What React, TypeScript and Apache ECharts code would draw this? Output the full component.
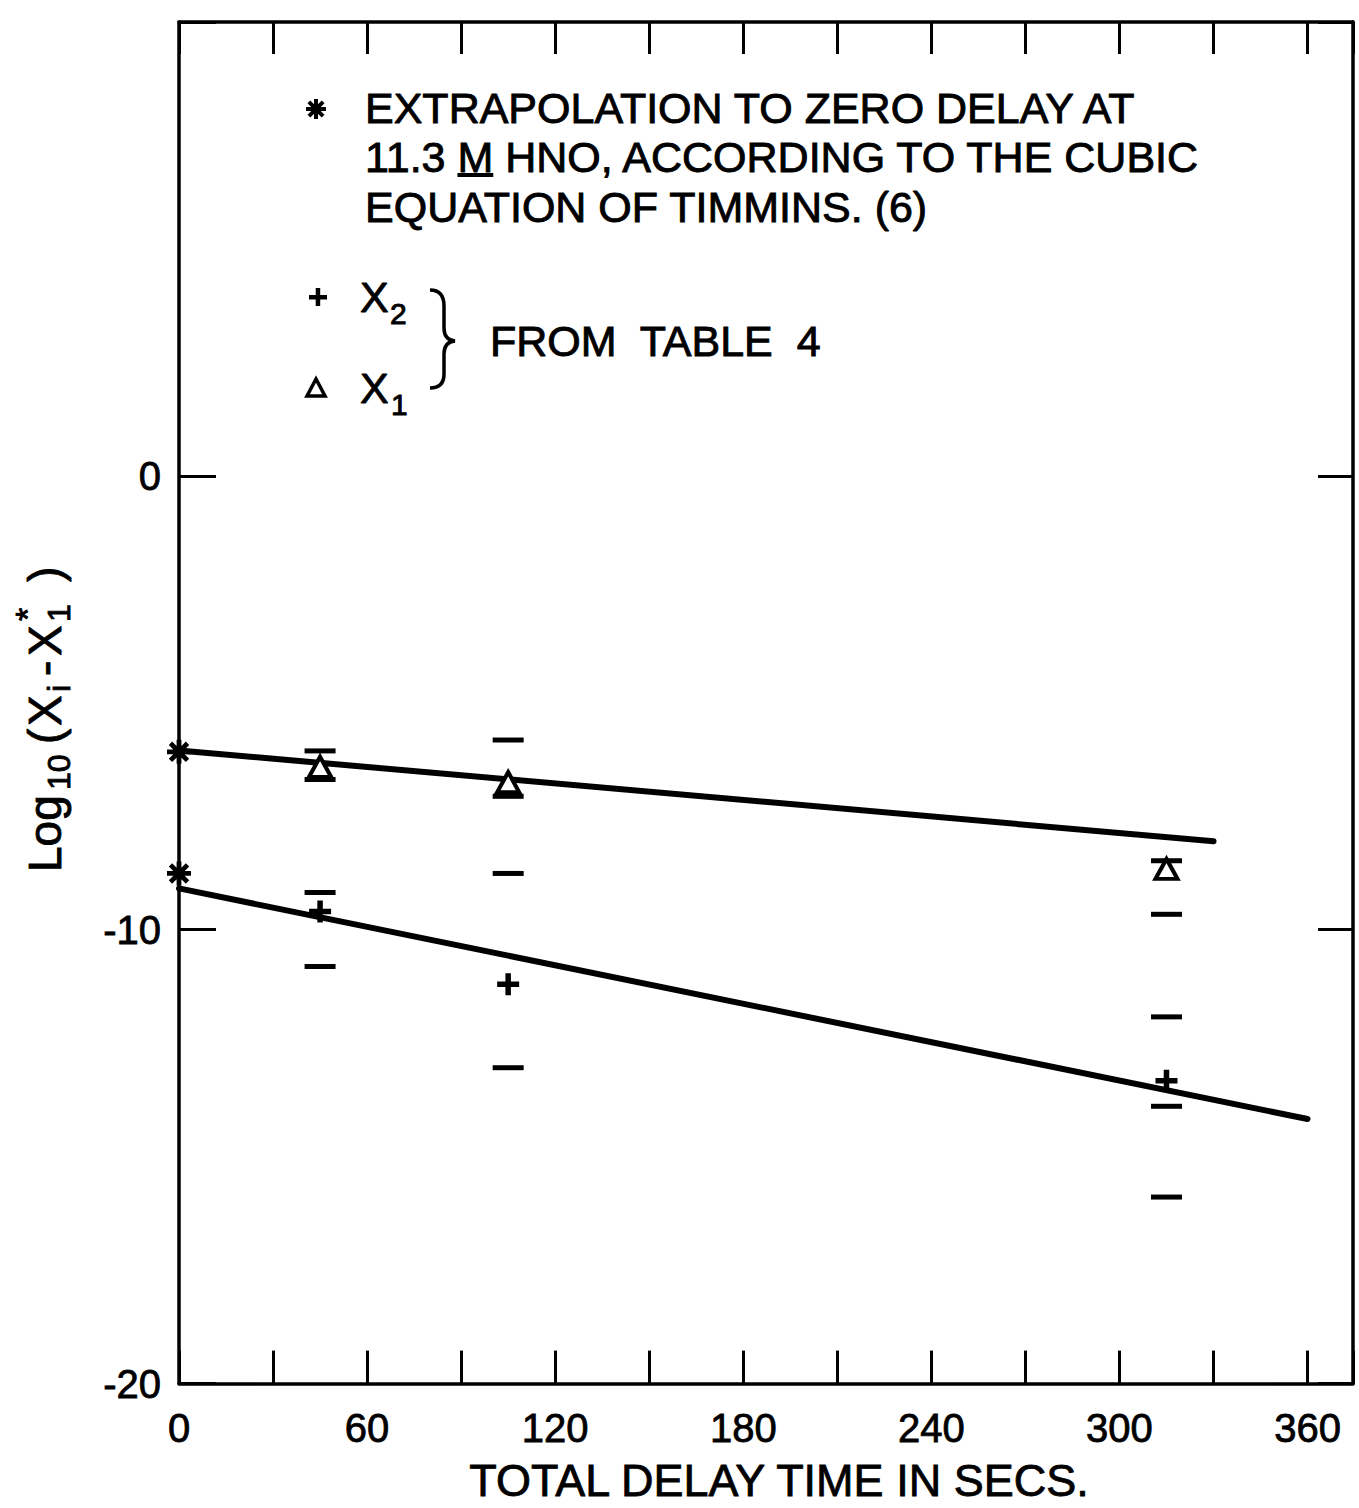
import React, { useEffect, useRef } from 'react';
import * as echarts from 'echarts';

// ---- data ----
const X_TICK_LABELS = [0, 60, 120, 180, 240, 300, 360];
const Y_TICK_LABELS = [0, -10, -20];
const DELAYS = [45, 105, 315];
const X1_VALUES = [-6.41, -6.75, -8.66];
const X2_VALUES = [-9.6, -11.2, -13.33];
const ZERO_DELAY_TIME = [0, 0];
const ZERO_DELAY_VALUES = [-6.08, -8.76];
const CAP_DELAYS = [45, 45, 45, 45, 105, 105, 105, 105, 315, 315, 315, 315, 315];
const CAP_VALUES = [-6.06, -6.69, -9.18, -10.81, -5.82, -7.06, -8.76, -13.04, -8.48, -9.66, -11.92, -13.89, -15.89];
const FIT_X1_TIME = [0, 330];
const FIT_X1_VALUE = [-6.05, -8.05];
const FIT_X2_TIME = [0, 360];
const FIT_X2_VALUE = [-9.09, -14.17];

const FONT_FAMILY = '"Liberation Sans", Arial, sans-serif';

const ASTERISK_D =
  'M0,8H20V12H0Z M8,0H12V20H8Z M4.3,1.5L18.5,15.7L15.7,18.5L1.5,4.3Z M15.7,1.5L18.5,4.3L4.3,18.5L1.5,15.7Z';
const PLUS_D = 'M7.5,0H12.5V7.5H20V12.5H12.5V20H7.5V12.5H0V7.5H7.5Z';
const BRACE_D = 'M0,0 Q14,0 14,16 L14,38 Q14,50 25,51 Q14,52 14,64 L14,84 Q14,98 0,98';

echarts.graphic.registerShape('asteriskShape', echarts.graphic.extendPath(ASTERISK_D, {}) as any);
echarts.graphic.registerShape('braceShape', echarts.graphic.extendPath(BRACE_D, {}) as any);

function measure(text: string, font: string): number {
  const c = document.createElement('canvas').getContext('2d');
  if (!c) return text.length * 20;
  c.font = font;
  return c.measureText(text).width;
}

function txt(text: string, x: number, y: number, size: number, extra: any = {}) {
  return {
    type: 'text',
    x,
    y,
    z: 10,
    style: {
      text,
      fontSize: size,
      fontFamily: FONT_FAMILY,
      fill: '#000',
      stroke: '#000',
      lineWidth: 0.9,
      align: 'left',
      verticalAlign: 'middle',
      textAlign: 'left',
      textVerticalAlign: 'middle',
      ...extra,
    },
  };
}

export default function App() {
  const ref = useRef<HTMLDivElement>(null);

  useEffect(() => {
    if (!ref.current) return;
    const chart = echarts.init(ref.current, null, { renderer: 'svg' });

    const LEG = 43;
    const fLeg = `${LEG}px ${FONT_FAMILY}`;
    const w113 = measure('11.3 ', fLeg);
    const wM = measure('M', fLeg);
    const l2x = 365;

    const axisLineStyle = { color: '#000', width: 3.5 };
    const tickStyle = { color: '#000', width: 3 };

    const option: any = {
      animation: false,
      backgroundColor: '#fff',
      grid: { left: 179, top: 22, width: 1174, height: 1376, containLabel: false },
      xAxis: [
        {
          type: 'value',
          min: 0,
          max: 374.5,
          interval: 30,
          position: 'bottom',
          axisLine: { show: true, onZero: false, lineStyle: axisLineStyle },
          axisTick: { show: true, inside: true, length: 33, lineStyle: tickStyle },
          splitLine: { show: false },
          axisLabel: {
            show: true,
            margin: 24,
            fontSize: 40,
            fontFamily: FONT_FAMILY,
            color: '#000',
            textBorderColor: '#000',
            textBorderWidth: 0.8,
            formatter: (v: number) => (X_TICK_LABELS.includes(v) ? String(v) : ''),
          },
          name: 'TOTAL DELAY TIME IN SECS.',
          nameLocation: 'middle',
          nameGap: 74,
          nameTextStyle: {
            fontSize: 45,
            fontFamily: FONT_FAMILY,
            color: '#000',
            textBorderColor: '#000',
            textBorderWidth: 0.8,
            padding: [0, 0, 0, 26],
          },
        },
        {
          type: 'value',
          min: 0,
          max: 374.5,
          interval: 30,
          position: 'top',
          axisLine: { show: true, onZero: false, lineStyle: axisLineStyle },
          axisTick: { show: true, inside: true, length: 32, lineStyle: tickStyle },
          splitLine: { show: false },
          axisLabel: { show: false },
        },
      ],
      yAxis: [
        {
          type: 'value',
          min: -20,
          max: 10,
          interval: 10,
          position: 'left',
          axisLine: { show: true, onZero: false, lineStyle: axisLineStyle },
          axisTick: { show: true, inside: true, length: 37, lineStyle: tickStyle },
          splitLine: { show: false },
          axisLabel: {
            show: true,
            margin: 18,
            fontSize: 40,
            fontFamily: FONT_FAMILY,
            color: '#000',
            textBorderColor: '#000',
            textBorderWidth: 0.8,
            formatter: (v: number) => (Y_TICK_LABELS.includes(v) ? String(v) : ''),
          },
        },
        {
          type: 'value',
          min: -20,
          max: 10,
          interval: 10,
          position: 'right',
          axisLine: { show: true, onZero: false, lineStyle: axisLineStyle },
          axisTick: { show: true, inside: true, length: 35, lineStyle: tickStyle },
          splitLine: { show: false },
          axisLabel: { show: false },
        },
      ],
      series: [
        {
          type: 'line',
          data: FIT_X1_TIME.map((t, i) => [t, FIT_X1_VALUE[i]]),
          showSymbol: false,
          symbol: 'none',
          lineStyle: { color: '#000', width: 6, cap: 'round', opacity: 1 },
          z: 2,
        },
        {
          type: 'line',
          data: FIT_X2_TIME.map((t, i) => [t, FIT_X2_VALUE[i]]),
          showSymbol: false,
          symbol: 'none',
          lineStyle: { color: '#000', width: 6, cap: 'round', opacity: 1 },
          z: 2,
        },
        {
          type: 'scatter',
          data: CAP_DELAYS.map((t, i) => [t, CAP_VALUES[i]]),
          symbol: 'rect',
          symbolSize: [31, 5],
          itemStyle: { color: '#000', opacity: 1 },
          z: 3,
        },
        {
          type: 'scatter',
          data: ZERO_DELAY_TIME.map((t, i) => [t, ZERO_DELAY_VALUES[i]]),
          symbol: 'path://' + ASTERISK_D,
          symbolSize: 24,
          itemStyle: { color: '#000', opacity: 1 },
          z: 4,
        },
        {
          type: 'scatter',
          data: DELAYS.map((t, i) => [t, X1_VALUES[i]]),
          symbol: 'triangle',
          symbolSize: [22, 20],
          itemStyle: { color: '#fff', borderColor: '#000', borderWidth: 4, opacity: 1 },
          z: 4,
        },
        {
          type: 'scatter',
          data: DELAYS.map((t, i) => [t, X2_VALUES[i]]),
          symbol: 'path://' + PLUS_D,
          symbolSize: 22,
          itemStyle: { color: '#000', opacity: 1 },
          z: 4,
        },
      ],
      graphic: [
        // legend block 1
        { type: 'asteriskShape', x: 306, y: 99, scaleX: 1, scaleY: 1, style: { fill: '#000' }, z: 10 },
        txt('EXTRAPOLATION TO ZERO DELAY AT', 365, 108, LEG),
        txt('11.3 ', l2x, 157, LEG),
        txt('M', l2x + w113, 157, LEG),
        { type: 'rect', shape: { x: l2x + w113, y: 173, width: wM, height: 4 }, style: { fill: '#000' }, z: 10 },
        txt(' HNO, ACCORDING TO THE CUBIC', l2x + w113 + wM, 157, LEG),
        txt('EQUATION OF TIMMINS. (6)', 365, 207, LEG),
        // legend block 2
        { type: 'rect', shape: { x: 309, y: 295, width: 18, height: 4.5 }, style: { fill: '#000' }, z: 10 },
        { type: 'rect', shape: { x: 315.7, y: 288, width: 4.5, height: 18 }, style: { fill: '#000' }, z: 10 },
        txt('X', 360, 297, LEG),
        txt('2', 390, 313, 30),
        {
          type: 'braceShape',
          x: 430,
          y: 290,
          style: { fill: 'none', stroke: '#000', lineWidth: 3.5 },
          z: 10,
        },
        txt('FROM  TABLE  4', 490, 341, LEG),
        {
          type: 'polygon',
          shape: { points: [[316, 379], [307, 396], [325, 396]] },
          style: { fill: 'none', stroke: '#000', lineWidth: 3.5 },
          z: 10,
        },
        txt('X', 360, 388, LEG),
        txt('1', 391, 404, 30),
        // y-axis title, rotated
        {
          type: 'group',
          x: 45,
          y: 872,
          rotation: Math.PI / 2,
          children: [
            txt('Log', 0, 0, 46),
            txt('10', 82, 14, 32),
            txt('(', 128, 0, 46),
            txt('X', 146, 0, 46),
            txt('i', 180, 14, 32),
            txt('-', 196, 0, 46),
            txt('X', 216, 0, 46),
            txt('1', 250, 14, 32),
            txt('*', 251, -18, 34),
            txt(')', 290, 0, 46),
          ],
        },
      ],
    };

    chart.setOption(option);
    return () => chart.dispose();
  }, []);

  return (
    <div
      ref={ref}
      style={{ position: 'fixed', left: 0, top: 0, width: 1359, height: 1508, background: '#fff' }}
    />
  );
}
